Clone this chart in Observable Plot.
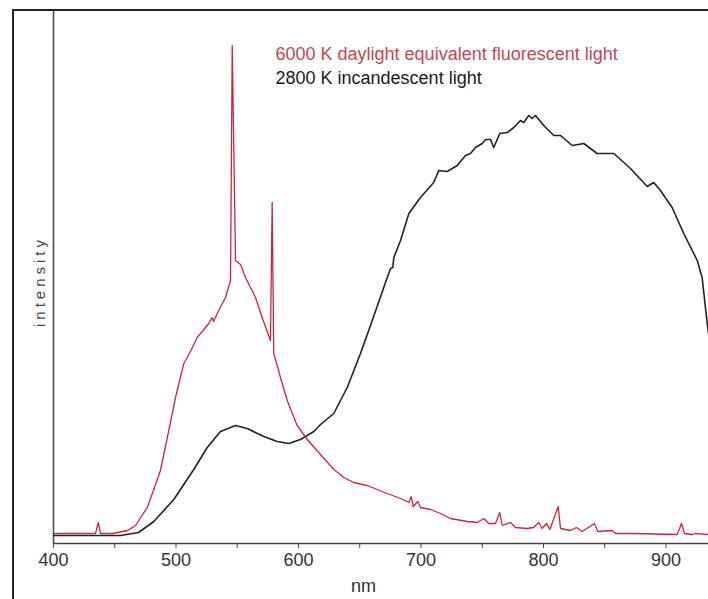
<!DOCTYPE html>
<html><head><meta charset="utf-8">
<script src="https://cdn.jsdelivr.net/npm/d3@7"></script>
<script src="https://cdn.jsdelivr.net/npm/@observablehq/plot@0.6"></script>
<style>
html,body{margin:0;padding:0;background:#fff;}
#wrap{position:relative;width:708px;height:599px;overflow:hidden;background:#fff;}
#frame{position:absolute;left:12px;top:9px;width:900px;height:800px;border-left:2px solid #222;border-top:2px solid #222;pointer-events:none;}
</style></head>
<body><div id="wrap"><div id="frame"></div></div>
<script>
// Wavelengths (nm) and intensities (arbitrary units)
const redNm = [400, 434.3, 436.5, 438.4, 448.2, 460.4, 467, 476.5, 481.6, 487.3, 494.1, 499.6, 506.4, 511, 517.3, 526.8, 529.5, 530.6, 534.9, 540.4, 544.5, 545.9, 548.6, 552.7, 556.7, 560.8, 564.9, 570.6, 577.1, 578.5, 579.8, 582.6, 585.3, 590.8, 598.9, 607.1, 618, 628.8, 637, 645.1, 656.1, 672.4, 683.3, 690.1, 692, 693.6, 697.4, 699.6, 707.8, 715.9, 724.1, 737.7, 745.9, 751.3, 755.3, 760.8, 764.3, 766.3, 773.1, 777.1, 786.7, 791.8, 796.2, 798.9, 802.4, 805.2, 812, 813.9, 822, 826.9, 831.6, 841.6, 844.3, 856, 858.8, 873.7, 909.1, 912.7, 915.1, 921.4, 924.1, 934.7];
const redVal = [10, 10, 21, 10, 10, 13, 18, 36, 53, 73, 113, 146, 180, 190, 206, 220, 226, 222, 233, 246, 263, 498, 283, 279, 266, 256, 246, 225, 203, 341, 190, 178, 166, 143, 118, 104, 89, 74, 66, 61, 58, 50, 45, 41, 47, 37, 42, 36, 34, 30, 25, 22, 21, 25, 20, 20, 31, 18, 21, 16, 15, 16, 21, 15, 20, 14, 37, 15, 13, 16, 12, 20, 12, 13, 10, 10, 9, 20, 10, 9, 10, 9];

const blackNm = [400, 454.7, 469.4, 481.9, 498.2, 514.5, 525.5, 536.3, 548.6, 558.1, 571.7, 582.6, 592.1, 601.6, 612.5, 618, 628.8, 639.8, 650.6, 660.2, 669.6, 675.1, 677, 677.8, 683.3, 690.1, 699.6, 710.4, 714.5, 721.4, 729.6, 736.3, 740.4, 744.5, 750, 752.7, 756.7, 759.4, 764.3, 770.4, 775.8, 781.2, 783.9, 788, 790.8, 793.5, 800.2, 808.4, 813.9, 823.4, 832.9, 843.8, 857.4, 871, 884.7, 890, 895.5, 905, 914.5, 925.5, 929.5, 933.1, 934.7];
const blackVal = [8, 8, 11, 22, 44, 74, 96, 112, 118, 115, 107, 102, 100, 104, 112, 119, 130, 156, 190, 223, 256, 275, 276, 286, 303, 330, 346, 361, 373, 372, 378, 388, 390, 396, 400, 404, 404, 396, 410, 411, 416, 423, 421, 428, 425, 428, 418, 408, 408, 398, 400, 390, 390, 375, 357, 361, 353, 336, 310, 283, 266, 226, 210];

const tickValues = [400, 450, 500, 550, 600, 650, 700, 750, 800, 850, 900];
const labelValues = [400, 500, 600, 700, 800, 900];
const seriesLabels = ["6000 K daylight equivalent fluorescent light", "2800 K incandescent light"];
const xLabel = "nm";
const yLabel = "intensity";

const red = redNm.map((nm, i) => ({nm, v: redVal[i]}));
const black = blackNm.map((nm, i) => ({nm, v: blackVal[i]}));

const chart = Plot.plot({
  width: 708, height: 599,
  marginLeft: 53, marginRight: 0, marginTop: 10, marginBottom: 56,
  style: {fontFamily: "'Liberation Sans', Arial, sans-serif", fontSize: "18px", background: "transparent", color: "#333"},
  x: {domain: [400, 934.7]},
  y: {domain: [0, 533], axis: null},
  marks: [
    Plot.axisX({ticks: tickValues, tickSize: 5, tickPadding: 5, tickFormat: d => labelValues.includes(d) ? String(d) : "", stroke: "#444", fill: "#333", label: null, fontSize: 18}),
    Plot.ruleX([400], {stroke: "#444", strokeWidth: 1.5}),
    Plot.ruleY([0], {stroke: "#444", strokeWidth: 1.5}),
    Plot.line(black, {x: "nm", y: "v", stroke: "#222", strokeWidth: 1.6, clip: true}),
    Plot.line(red, {x: "nm", y: "v", stroke: "#c8283c", strokeWidth: 1.3, clip: true}),
    Plot.text([seriesLabels[0]], {frameAnchor: "top-left", dx: 222, dy: 37, textAnchor: "start", lineAnchor: "top", fill: "#c3474f", fontSize: 18}),
    Plot.text([seriesLabels[1]], {frameAnchor: "top-left", dx: 222, dy: 61, textAnchor: "start", lineAnchor: "top", fill: "#1a1a1a", fontSize: 18}),
    Plot.text([xLabel], {frameAnchor: "bottom", dx: -17.5, dy: 36, textAnchor: "middle", lineAnchor: "top", fill: "#333", fontSize: 18}),
    Plot.text([yLabel], {frameAnchor: "left", dx: -13, dy: 4.5, rotate: -90, textAnchor: "middle", lineAnchor: "middle", fill: "#444", fontSize: 15})
  ]
});
d3.select(chart).selectAll("text").filter(function() { return this.textContent === yLabel; }).attr("letter-spacing", "4px");
chart.style.position = "absolute";
chart.style.left = "0px";
chart.style.top = "0px";
const wrap = document.getElementById("wrap");
wrap.insertBefore(chart, wrap.firstChild);
</script>
</body></html>
